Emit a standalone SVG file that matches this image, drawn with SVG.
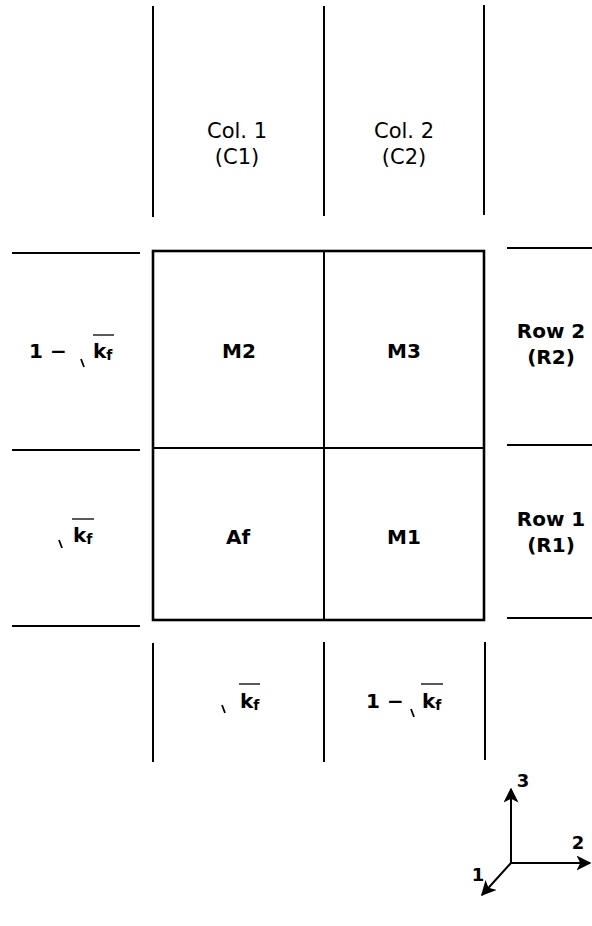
<svg xmlns="http://www.w3.org/2000/svg" width="592" height="926" viewBox="0 0 592 926">
<defs>
<style>
.ln{stroke:#000;stroke-width:2;fill:none}
.bx{stroke:#000;stroke-width:2.6;fill:none}
.t{font-family:"DejaVu Sans","Liberation Sans",Arial,sans-serif;font-size:20px;fill:#000;text-anchor:middle}
.c{font-size:21px}
.b{font-weight:bold}
.s{text-anchor:start}
.tk{stroke:#000;stroke-width:1.8;fill:none}
.ov{stroke:#000;stroke-width:1.3;fill:none}
</style>
<marker id="ah" viewBox="0 0 10 10" refX="9" refY="5" markerWidth="7.5" markerHeight="7.5" orient="auto" markerUnits="strokeWidth"><path d="M0,0 L10,5 L0,10 L2.5,5 z" fill="#000"/></marker>
</defs>
<rect width="592" height="926" fill="#fff"/>
<g id="connectors">
<line class="ln" x1="153" y1="6" x2="153" y2="217"/>
<line class="ln" x1="324" y1="6" x2="324" y2="216"/>
<line class="ln" x1="484" y1="5" x2="484" y2="215"/>
<line class="ln" x1="12" y1="253" x2="140" y2="253"/>
<line class="ln" x1="12" y1="450" x2="140" y2="450"/>
<line class="ln" x1="12" y1="626" x2="140" y2="626"/>
<line class="ln" x1="507" y1="248" x2="592" y2="248"/>
<line class="ln" x1="507" y1="445" x2="592" y2="445"/>
<line class="ln" x1="507" y1="618" x2="592" y2="618"/>
<line class="ln" x1="153" y1="643" x2="153" y2="762"/>
<line class="ln" x1="324" y1="642" x2="324" y2="762"/>
<line class="ln" x1="485" y1="642" x2="485" y2="760"/>
</g>
<g id="grid">
<rect class="bx" x="153" y="251" width="331" height="369"/>
<line class="ln" x1="324" y1="251" x2="324" y2="620"/>
<line class="ln" x1="153" y1="448" x2="484" y2="448"/>
</g>
<g id="col1"><text class="t c" x="237" y="138">Col. 1</text><text class="t c" x="237" y="164">(C1)</text></g>
<g id="col2"><text class="t c" x="404" y="138">Col. 2</text><text class="t c" x="404" y="164">(C2)</text></g>
<g id="row2"><text class="t b" x="551" y="338">Row 2</text><text class="t b" x="551" y="364">(R2)</text></g>
<g id="row1"><text class="t b" x="551" y="526">Row 1</text><text class="t b" x="551" y="552">(R1)</text></g>
<g id="M2"><text class="t b" x="239" y="358">M2</text></g>
<g id="M3"><text class="t b" x="404" y="358">M3</text></g>
<g id="Af"><text class="t b" x="238" y="544">Af</text></g>
<g id="M1"><text class="t b" x="404" y="544">M1</text></g>
<g id="left-r2">
<text class="t b s" x="29" y="358">1 −</text>
<line class="tk" x1="81" y1="359" x2="84" y2="367"/>
<line class="ov" x1="93" y1="335" x2="114" y2="335"/>
<text class="t b s" x="93" y="358">k<tspan font-size="14" dy="2">f</tspan></text>
</g>
<g id="left-r1">
<line class="tk" x1="59" y1="540" x2="62" y2="548"/>
<line class="ov" x1="72" y1="519" x2="94" y2="519"/>
<text class="t b s" x="73" y="542">k<tspan font-size="14" dy="2">f</tspan></text>
</g>
<g id="bot-c1">
<line class="tk" x1="222" y1="705" x2="225" y2="713"/>
<line class="ov" x1="239" y1="684" x2="260" y2="684"/>
<text class="t b s" x="240" y="708">k<tspan font-size="14" dy="2">f</tspan></text>
</g>
<g id="bot-c2">
<text class="t b s" x="366" y="708">1 −</text>
<line class="tk" x1="411" y1="709" x2="414" y2="717"/>
<line class="ov" x1="421" y1="684" x2="443" y2="684"/>
<text class="t b s" x="422" y="708">k<tspan font-size="14" dy="2">f</tspan></text>
</g>
<g id="axes">
<line class="ln" x1="511" y1="863" x2="511" y2="789" marker-end="url(#ah)"/>
<line class="ln" x1="511" y1="863" x2="590" y2="863" marker-end="url(#ah)"/>
<line class="ln" x1="511" y1="863" x2="482" y2="895" marker-end="url(#ah)"/>
<text class="t b" x="523" y="787" style="font-size:18px">3</text>
<text class="t b" x="578" y="849" style="font-size:18px">2</text>
<text class="t b" x="478" y="881" style="font-size:18px">1</text>
</g>
</svg>
